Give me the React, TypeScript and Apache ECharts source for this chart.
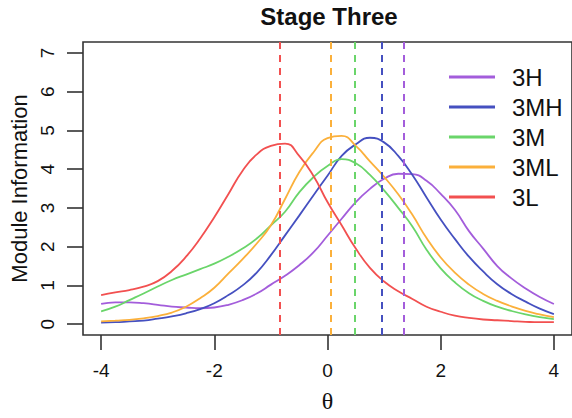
import React, { useEffect, useRef } from "react";
import * as echarts from "echarts";

const theta = [-4, -3.75, -3.5, -3.25, -3, -2.75, -2.5, -2.25, -2, -1.75, -1.5, -1.25, -1, -0.75, -0.5, -0.25, 0, 0.25, 0.5, 0.75, 1, 1.25, 1.5, 1.75, 2, 2.25, 2.5, 2.75, 3, 3.25, 3.5, 3.75, 4];

const info3H = [0.52, 0.56, 0.56, 0.54, 0.5, 0.45, 0.43, 0.41, 0.43, 0.5, 0.62, 0.79, 1.02, 1.25, 1.52, 1.85, 2.28, 2.72, 3.15, 3.49, 3.75, 3.88, 3.87, 3.7, 3.36, 2.95, 2.4, 1.95, 1.5, 1.18, 0.92, 0.7, 0.52];
const info3MH = [0.04, 0.05, 0.07, 0.09, 0.14, 0.2, 0.28, 0.39, 0.54, 0.75, 1.0, 1.33, 1.78, 2.29, 2.8, 3.32, 3.83, 4.34, 4.64, 4.81, 4.69, 4.34, 3.85, 3.27, 2.7, 2.2, 1.74, 1.36, 1.03, 0.78, 0.58, 0.4, 0.26];
const info3M = [0.33, 0.45, 0.62, 0.79, 0.97, 1.14, 1.28, 1.42, 1.56, 1.74, 1.95, 2.21, 2.55, 2.9, 3.4, 3.79, 4.08, 4.26, 4.15, 3.85, 3.45, 3.0, 2.52, 1.92, 1.44, 1.08, 0.8, 0.6, 0.45, 0.34, 0.25, 0.18, 0.13];
const info3ML = [0.07, 0.09, 0.11, 0.15, 0.21, 0.3, 0.45, 0.67, 0.94, 1.31, 1.68, 2.08, 2.55, 3.23, 3.92, 4.43, 4.8, 4.86, 4.6, 4.2, 3.8, 3.35, 2.82, 2.22, 1.72, 1.33, 1.02, 0.78, 0.6, 0.46, 0.34, 0.25, 0.18];
const info3L = [0.75, 0.82, 0.88, 0.97, 1.11, 1.37, 1.74, 2.21, 2.76, 3.36, 3.96, 4.38, 4.6, 4.66, 4.34, 3.83, 3.15, 2.55, 1.95, 1.45, 1.1, 0.85, 0.65, 0.45, 0.32, 0.22, 0.16, 0.12, 0.1, 0.08, 0.06, 0.05, 0.05];

const moduleNames = ["3H", "3MH", "3M", "3ML", "3L"];
const moduleColors = ["#a35ddb", "#4550c0", "#6ad56a", "#fbb03b", "#f25050"];
const moduleInfo = [info3H, info3MH, info3M, info3ML, info3L];
const cutPoints = [1.34, 0.96, 0.48, 0.05, -0.85];

const xTicks = [-4, -2, 0, 2, 4];
const yTicks = [0, 1, 2, 3, 4, 5, 6, 7];

export default function App() {
  const ref = useRef<HTMLDivElement>(null);
  useEffect(() => {
    if (!ref.current) return;
    const chart = echarts.init(ref.current, null, { renderer: "svg" });
    const font = "Liberation Sans, Arial, sans-serif";
    const series: any[] = moduleNames.map((name, i) => ({
      name,
      type: "line",
      data: theta.map((t, j) => [t, moduleInfo[i][j]]),
      smooth: 0.5,
      showSymbol: false,
      symbol: "none",
      color: moduleColors[i],
      lineStyle: { color: moduleColors[i], width: 1.8 },
      z: 3,
    }));
    series.push({
      name: "cuts",
      type: "line",
      data: [],
      silent: true,
      markLine: {
        silent: true,
        symbol: ["none", "none"],
        label: { show: false },
        animation: false,
        data: cutPoints.map((c, i) => ({
          xAxis: c,
          lineStyle: { color: moduleColors[i], type: [7, 6], width: 2 },
        })),
      },
    });
    chart.setOption({
      animation: false,
      backgroundColor: "#ffffff",
      textStyle: { fontFamily: font },
      grid: {
        left: 83,
        top: 42,
        width: 492,
        height: 295,
        show: true,
        borderColor: "#333",
        borderWidth: 1.6,
        backgroundColor: "transparent",
      },
      graphic: [
        {
          type: "text",
          x: 329,
          y: 16,
          style: {
            text: "Stage Three",
            font: "bold 24px Liberation Sans, Arial, sans-serif",
            fill: "#111",
            align: "center",
            verticalAlign: "middle",
          },
        },
      ],
      legend: {
        data: moduleNames,
        orient: "vertical",
        left: 444,
        top: 60,
        itemWidth: 46,
        itemHeight: 3,
        itemGap: 6,
        icon: "rect",
        textStyle: { fontSize: 24, color: "#111", fontFamily: font, lineHeight: 24, padding: [0, 0, 0, 12] },
      },
      xAxis: {
        type: "value",
        min: -4.32,
        max: 4.32,
        name: "θ",
        nameLocation: "middle",
        nameGap: 54,
        nameTextStyle: { fontSize: 24, color: "#111", fontFamily: "Liberation Serif, DejaVu Serif, serif" },
        splitLine: { show: false },
        axisLine: { show: false, onZero: false },
        axisTick: { show: true, customValues: xTicks, length: 15, lineStyle: { color: "#333", width: 1.6 } },
        axisLabel: { customValues: xTicks, fontSize: 19, color: "#111", margin: 26, fontFamily: font },
      },
      yAxis: {
        type: "value",
        min: -0.28,
        max: 7.28,
        name: "Module Information",
        nameLocation: "middle",
        nameGap: 52,
        nameTextStyle: { fontSize: 22, color: "#111", fontFamily: font },
        splitLine: { show: false },
        axisLine: { show: false, onZero: false },
        axisTick: { show: true, customValues: yTicks, length: 16, lineStyle: { color: "#333", width: 1.6 } },
        axisLabel: { customValues: yTicks, fontSize: 19, color: "#111", margin: 26, rotate: 90, fontFamily: font },
      },
      series,
    });
    return () => chart.dispose();
  }, []);
  return <div ref={ref} style={{ position: "fixed", left: 0, top: 0, width: 572, height: 418 }} />;
}
